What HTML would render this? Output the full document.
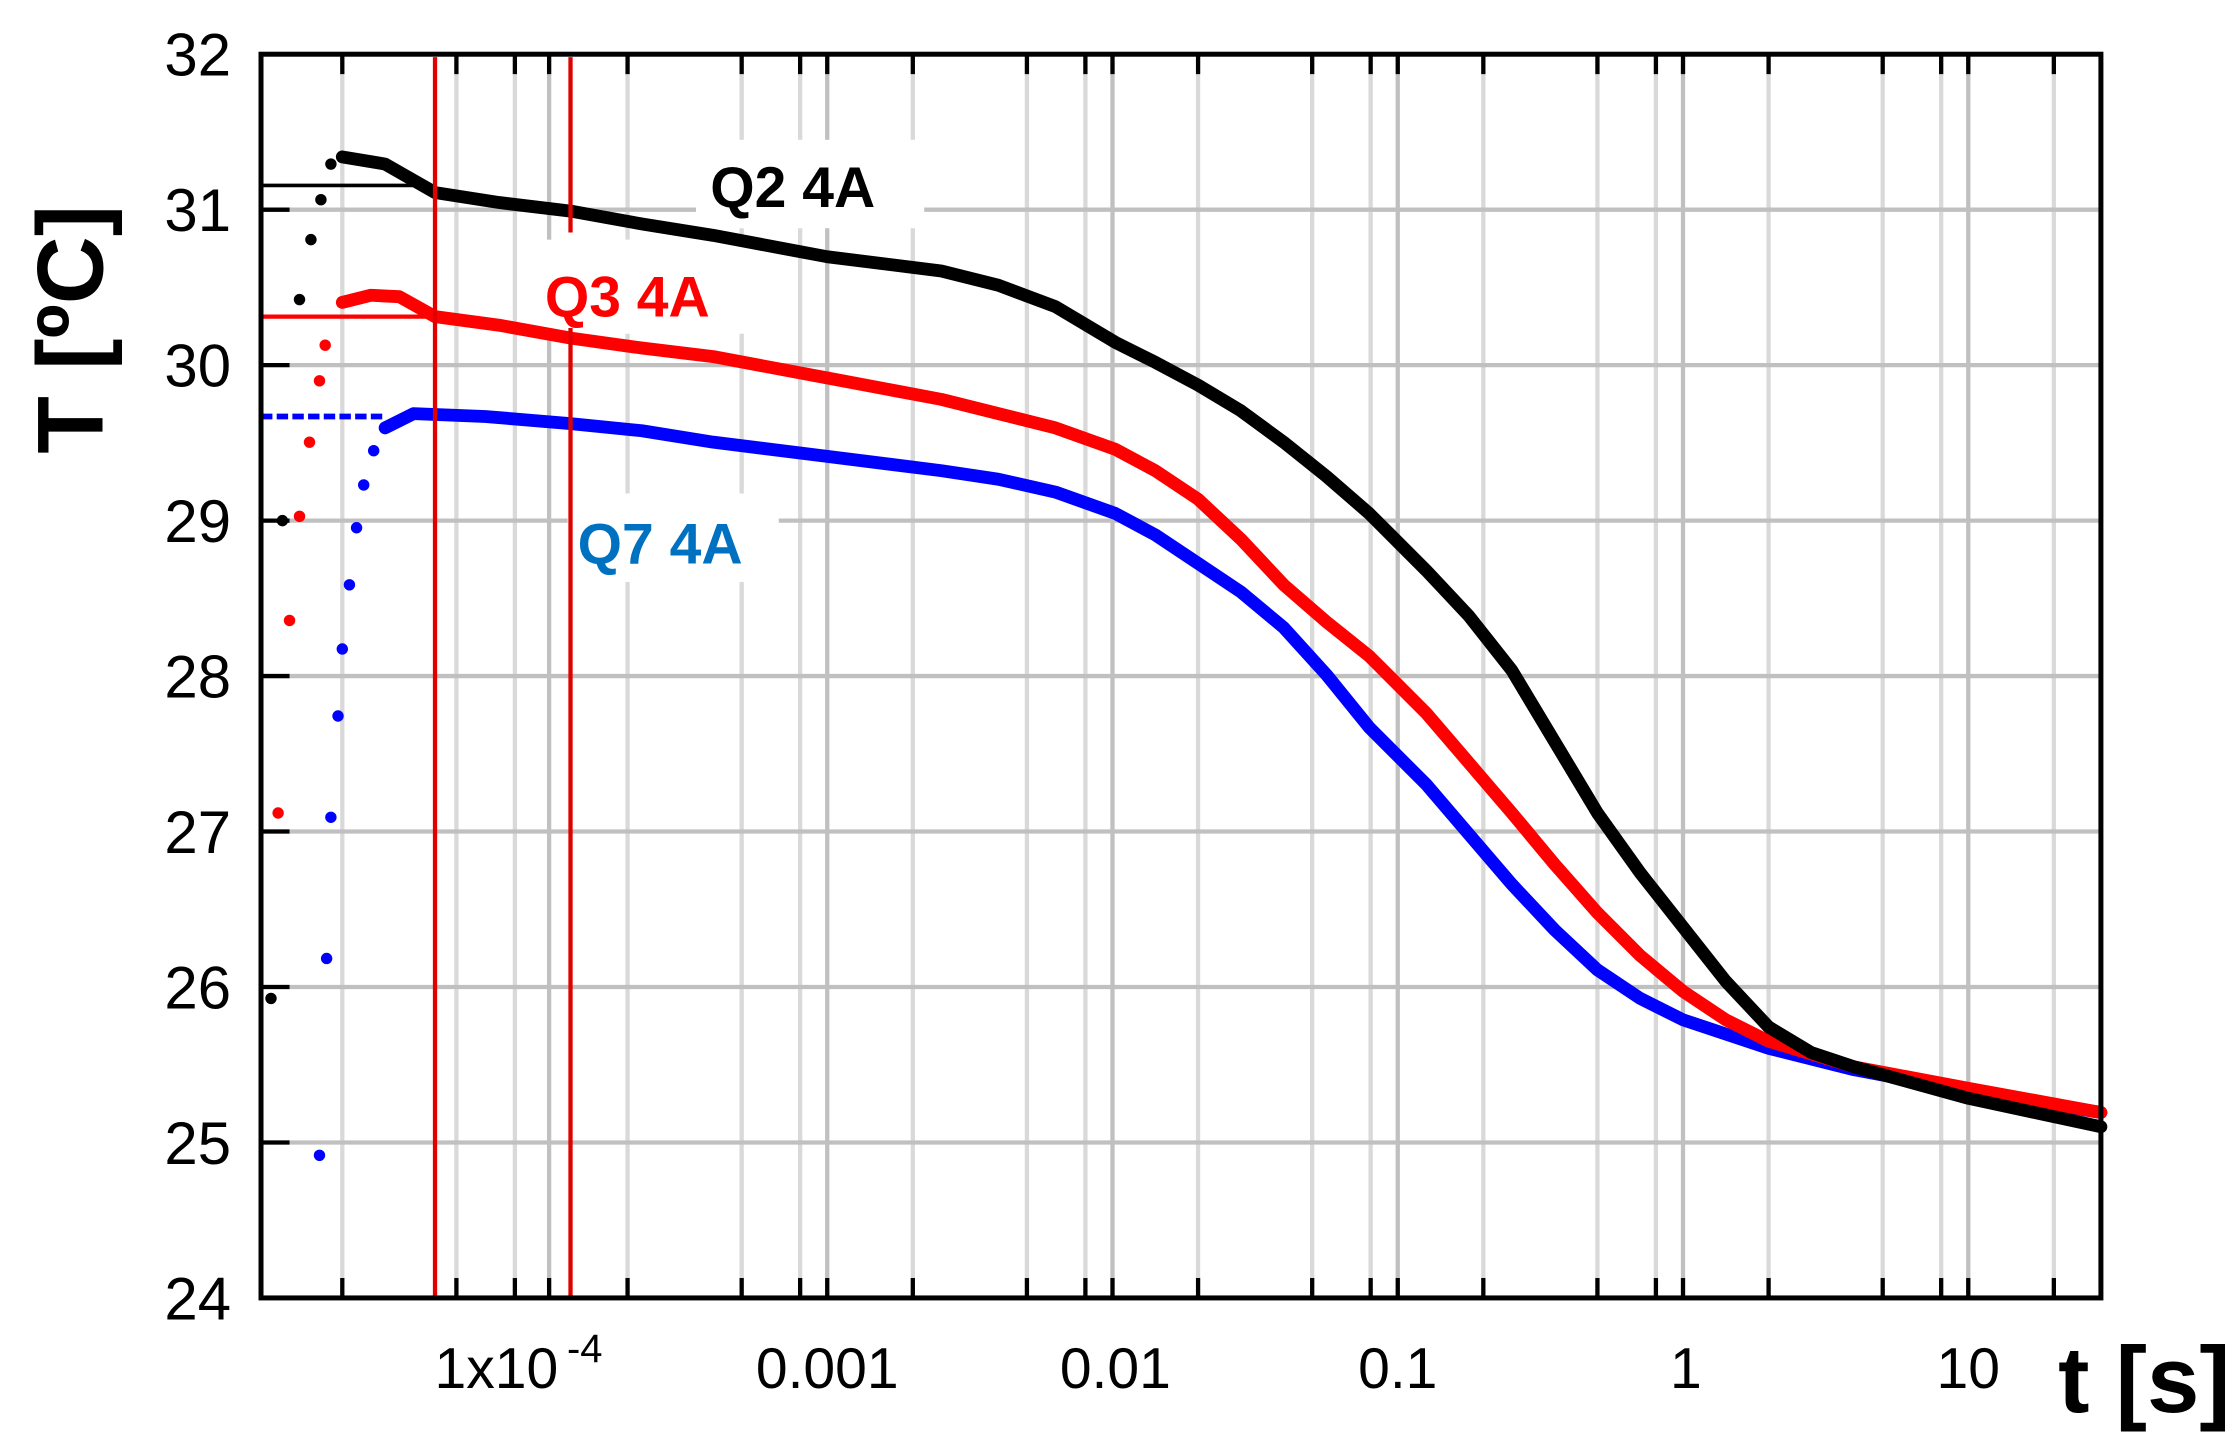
<!DOCTYPE html>
<html><head><meta charset="utf-8"><style>
html,body{margin:0;padding:0;background:#fff;}
svg{display:block;}
</style></head><body>
<svg width="2225" height="1444" viewBox="0 0 1560 1012.4" xmlns="http://www.w3.org/2000/svg" font-family="Liberation Sans, Arial, sans-serif">
<rect width="1560" height="1012.4" fill="#fff"/>
<g stroke="#d9d9d9" stroke-width="3">
<line x1="240" y1="38" x2="240" y2="910"/><line x1="320" y1="38" x2="320" y2="910"/><line x1="361" y1="38" x2="361" y2="910"/>
<line x1="440" y1="38" x2="440" y2="910"/><line x1="520" y1="38" x2="520" y2="910"/><line x1="561" y1="38" x2="561" y2="910"/>
<line x1="640" y1="38" x2="640" y2="910"/><line x1="720" y1="38" x2="720" y2="910"/><line x1="761" y1="38" x2="761" y2="910"/>
<line x1="840" y1="38" x2="840" y2="910"/><line x1="920" y1="38" x2="920" y2="910"/><line x1="961" y1="38" x2="961" y2="910"/>
<line x1="1040" y1="38" x2="1040" y2="910"/><line x1="1120" y1="38" x2="1120" y2="910"/><line x1="1161" y1="38" x2="1161" y2="910"/>
<line x1="1240" y1="38" x2="1240" y2="910"/><line x1="1320" y1="38" x2="1320" y2="910"/><line x1="1361" y1="38" x2="1361" y2="910"/>
<line x1="1440" y1="38" x2="1440" y2="910"/>
</g>
<g stroke="#c0c0c0" stroke-width="3">
<line x1="385" y1="38" x2="385" y2="910"/><line x1="580" y1="38" x2="580" y2="910"/><line x1="780" y1="38" x2="780" y2="910"/>
<line x1="980" y1="38" x2="980" y2="910"/><line x1="1180" y1="38" x2="1180" y2="910"/><line x1="1380" y1="38" x2="1380" y2="910"/>
<line x1="183" y1="147" x2="1473" y2="147"/><line x1="183" y1="256" x2="1473" y2="256"/><line x1="183" y1="365" x2="1473" y2="365"/>
<line x1="183" y1="474" x2="1473" y2="474"/><line x1="183" y1="583" x2="1473" y2="583"/><line x1="183" y1="692" x2="1473" y2="692"/>
<line x1="183" y1="801" x2="1473" y2="801"/>
</g>
<rect x="488" y="98" width="160" height="62" fill="#fff"/>
<rect x="372" y="168" width="150" height="66" fill="#fff"/>
<rect x="398" y="346" width="148" height="62" fill="#fff"/>
<line x1="183" y1="130" x2="300" y2="130" stroke="#000" stroke-width="2.5"/>
<line x1="183" y1="222" x2="305" y2="222" stroke="#f00" stroke-width="3"/>
<line x1="183" y1="292" x2="270" y2="292" stroke="#00f" stroke-width="4" stroke-dasharray="8,3"/>
<g fill="none" stroke-width="9" stroke-linejoin="round" stroke-linecap="round">
<polyline stroke="#00f" points="270,300 290,290 340,292 400,297 450,302 500,310 580,320 660,330 700,336 740,345 782,360 810,375 840,395 870,415 900,440 930,473 960,510 1000,550 1030,585 1060,620 1090,652 1120,680 1150,700 1180,715 1240,735 1300,750 1380,765 1473,780"/>
<polyline stroke="#f00" points="240,212 260,207 280,208 305,222 350,228 400,237 450,244 500,250 580,265 660,280 700,290 740,300 782,315 810,330 840,350 870,378 900,410 930,436 960,460 1000,500 1030,535 1060,570 1090,606 1120,640 1150,670 1180,695 1210,715 1240,730 1300,748 1380,763 1473,780"/>
<polyline stroke="#000" points="240,110 270,115 305,135 350,142 400,148 450,157 500,165 580,180 660,190 700,200 740,215 782,240 810,254 840,270 870,288 900,310 930,334 960,360 1000,400 1030,432 1060,470 1090,520 1120,570 1150,612 1180,650 1210,688 1240,720 1270,738 1300,748 1380,770 1473,790"/>
</g>
<g fill="#000">
<circle cx="190" cy="700" r="4"/><circle cx="198" cy="365" r="4"/><circle cx="210" cy="210" r="4"/><circle cx="218" cy="168" r="4"/><circle cx="225" cy="140" r="4"/><circle cx="232" cy="115" r="4"/>
</g>
<g fill="#f00">
<circle cx="195" cy="570" r="4"/><circle cx="203" cy="435" r="4"/><circle cx="210" cy="362" r="4"/><circle cx="217" cy="310" r="4"/><circle cx="224" cy="267" r="4"/><circle cx="228" cy="242" r="4"/>
</g>
<g fill="#00f">
<circle cx="224" cy="810" r="4"/><circle cx="229" cy="672" r="4"/><circle cx="232" cy="573" r="4"/><circle cx="237" cy="502" r="4"/><circle cx="240" cy="455" r="4"/><circle cx="245" cy="410" r="4"/><circle cx="250" cy="370" r="4"/><circle cx="255" cy="340" r="4"/><circle cx="262" cy="316" r="4"/>
</g>
<line x1="305" y1="40" x2="305" y2="910" stroke="#e00000" stroke-width="3"/>
<line x1="400" y1="40" x2="400" y2="163" stroke="#e00000" stroke-width="3"/>
<line x1="400" y1="230" x2="400" y2="910" stroke="#e00000" stroke-width="3"/>
<text x="498" y="145" font-size="40" font-weight="bold" fill="#000">Q2 4A</text>
<text x="382" y="222" font-size="40" font-weight="bold" fill="#f00">Q3 4A</text>
<text x="405" y="395" font-size="40" font-weight="bold" fill="#0070c0">Q7 4A</text>
<g stroke="#000" stroke-width="3">
<path d="M240,38v14M320,38v14M361,38v14M385,38v14M440,38v14M520,38v14M561,38v14M580,38v14M640,38v14M720,38v14M761,38v14M780,38v14M840,38v14M920,38v14M961,38v14M980,38v14M1040,38v14M1120,38v14M1161,38v14M1180,38v14M1240,38v14M1320,38v14M1361,38v14M1380,38v14M1440,38v14"/>
<path d="M240,910v-14M320,910v-14M361,910v-14M385,910v-14M440,910v-14M520,910v-14M561,910v-14M580,910v-14M640,910v-14M720,910v-14M761,910v-14M780,910v-14M840,910v-14M920,910v-14M961,910v-14M980,910v-14M1040,910v-14M1120,910v-14M1161,910v-14M1180,910v-14M1240,910v-14M1320,910v-14M1361,910v-14M1380,910v-14M1440,910v-14"/>
<path d="M183,147h20M183,256h20M183,365h20M183,474h20M183,583h20M183,692h20M183,801h20"/>
</g>
<rect x="183" y="38" width="1290" height="872" fill="none" stroke="#000" stroke-width="3.5"/>
<g font-size="42" fill="#000" text-anchor="end">
<text x="162" y="53">32</text><text x="162" y="162">31</text><text x="162" y="271">30</text><text x="162" y="380">29</text>
<text x="162" y="489">28</text><text x="162" y="598">27</text><text x="162" y="707">26</text><text x="162" y="816">25</text><text x="162" y="925">24</text>
</g>
<g font-size="40" fill="#000" text-anchor="middle">
<text x="348" y="973">1x10</text><text x="410" y="955" font-size="28">-4</text>
<text x="580" y="973">0.001</text><text x="782" y="973">0.01</text><text x="980" y="973">0.1</text><text x="1182" y="973">1</text><text x="1380" y="973">10</text>
</g>
<text x="1443" y="990" font-size="66" font-weight="bold" fill="#000">t [s]</text>
<text transform="translate(72,318) rotate(-90)" font-size="66" font-weight="bold" fill="#000">T [ºC]</text>
</svg>
</body></html>
